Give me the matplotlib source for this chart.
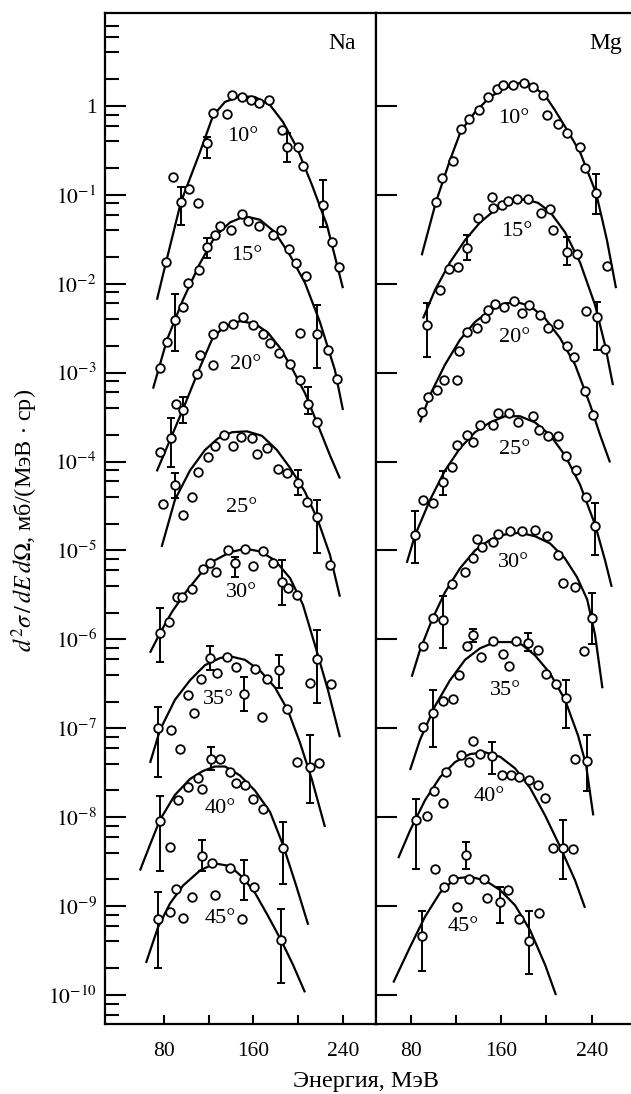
import numpy as np
import matplotlib
matplotlib.use("Agg")
import matplotlib.pyplot as plt
from matplotlib.ticker import LogLocator, NullLocator, FixedLocator

plt.rcParams['font.family'] = ['Liberation Serif', 'DejaVu Serif']
plt.rcParams['mathtext.fontset'] = 'stix'

#################################################
#            Data (E in MeV, lg = log10 of d2s/dEdO)
#################################################
angles = [10, 15, 20, 25, 30, 35, 40, 45]

# ---- Na ----
na10_E = [81.5, 88.3, 95.2, 102.6, 110.2, 118.8, 124.1, 136.1, 141.1, 150.1, 157.6, 165.3, 174.2, 185.3, 189.8, 200.2, 204.1, 222.0, 230.6, 236.6]
na10_lg = [-1.76, -0.80, -1.08, -0.93, -1.09, -0.42, -0.08, -0.09, 0.12, 0.10, 0.07, 0.03, 0.07, -0.27, -0.46, -0.46, -0.68, -1.11, -1.53, -1.81]
na10_err = [(95.2, -1.34, -0.91), (118.8, -0.59, -0.35), (189.8, -0.63, -0.31), (222.0, -1.36, -0.83)]
na10_fitE = [73.7, 81.8, 95.2, 112.2, 123.9, 134.6, 148.0, 161.4, 174.9, 186.5, 199.0, 212.5, 225.9, 240.2]
na10_fit = [-2.18, -1.76, -1.08, -0.52, -0.11, 0.045, 0.11, 0.10, 0.01, -0.18, -0.47, -0.89, -1.34, -2.05]

na15_E = [76.4, 82.4, 89.8, 96.7, 101.7, 111.3, 118.8, 125.6, 130.1, 139.7, 150.1, 155.5, 165.3, 177.8, 184.7, 191.9, 198.1, 206.8, 201.7, 216.7, 226.9, 234.6]
na15_lg = [-2.95, -2.65, -2.41, -2.26, -1.99, -1.85, -1.59, -1.45, -1.35, -1.39, -1.21, -1.29, -1.35, -1.45, -1.40, -1.61, -1.77, -1.91, -2.55, -2.56, -2.74, -3.07]
na15_err = [(89.8, -2.76, -2.12), (118.8, -1.71, -1.49), (216.7, -2.95, -2.24)]
na15_fitE = [70.2, 82.7, 97.0, 112.2, 125.6, 139.1, 152.5, 165.9, 179.3, 192.8, 206.2, 219.6, 233.0, 240.2]
na15_fit = [-3.18, -2.63, -2.18, -1.77, -1.47, -1.31, -1.24, -1.28, -1.42, -1.68, -1.99, -2.43, -2.97, -3.42]

na20_E = [76.4, 86.0, 90.5, 96.7, 109.3, 112.2, 123.6, 124.2, 133.1, 142.0, 150.4, 159.9, 168.9, 174.9, 183.2, 192.8, 201.7, 209.1, 216.7]
na20_lg = [-3.89, -3.74, -3.35, -3.42, -3.02, -2.80, -2.91, -2.56, -2.48, -2.45, -2.37, -2.46, -2.56, -2.67, -2.78, -2.90, -3.08, -3.35, -3.55]
na20_err = [(86.0, -4.06, -3.51), (96.7, -3.57, -3.27), (209.1, -3.46, -3.16)]
na20_fitE = [73.5, 86.0, 96.7, 112.2, 123.9, 134.6, 148.0, 161.4, 173.1, 183.8, 194.6, 206.2, 217.8, 228.6, 237.5]
na20_fit = [-4.11, -3.74, -3.42, -2.94, -2.60, -2.48, -2.42, -2.45, -2.55, -2.72, -2.95, -3.23, -3.59, -3.93, -4.19]

na25_E = [79.4, 89.8, 96.7, 104.8, 110.7, 119.7, 125.6, 133.7, 142.0, 148.6, 158.5, 163.0, 171.9, 182.3, 189.8, 200.2, 207.7, 216.7, 228.3]
na25_lg = [-4.48, -4.26, -4.60, -4.40, -4.12, -3.95, -3.82, -3.70, -3.82, -3.72, -3.74, -3.91, -3.85, -4.08, -4.13, -4.24, -4.45, -4.62, -5.16]
na25_err = [(89.8, -4.41, -4.13), (200.2, -4.38, -4.10), (216.7, -5.03, -4.43)]
na25_fitE = [77.9, 89.8, 103.3, 116.7, 128.3, 140.9, 154.3, 167.7, 181.1, 192.8, 206.2, 217.8, 228.6, 237.5]
na25_fit = [-4.96, -4.43, -4.10, -3.87, -3.74, -3.67, -3.66, -3.71, -3.87, -4.07, -4.34, -4.66, -5.05, -5.52]

na30_E = [76.4, 84.7, 91.4, 95.8, 104.8, 114.6, 121.2, 126.5, 137.6, 143.5, 152.5, 159.9, 168.9, 177.8, 185.3, 191.3, 198.8, 210.7, 216.7, 229.2]
na30_lg = [-5.93, -5.81, -5.52, -5.52, -5.43, -5.21, -5.14, -5.24, -4.99, -5.14, -4.98, -5.17, -5.01, -5.14, -5.35, -5.42, -5.50, -6.49, -6.22, -6.50]
na30_err = [(76.4, -6.25, -5.65), (143.5, -5.30, -5.07), (185.3, -5.61, -5.11), (216.7, -6.72, -5.90)]
na30_fitE = [67.5, 76.4, 87.2, 98.8, 112.2, 125.6, 139.1, 152.5, 165.9, 179.3, 192.8, 204.4, 216.0, 226.8, 237.5]
na30_fit = [-6.15, -5.93, -5.69, -5.48, -5.27, -5.11, -5.02, -4.98, -5.01, -5.11, -5.31, -5.61, -6.10, -6.57, -7.10]

na35_E = [74.9, 86.0, 94.3, 101.7, 106.8, 112.8, 121.2, 127.2, 136.1, 144.2, 151.9, 161.4, 167.4, 171.9, 183.2, 189.8, 198.8, 210.7, 219.2]
na35_lg = [-7.00, -7.02, -7.23, -6.63, -6.83, -6.45, -6.21, -6.38, -6.20, -6.31, -6.61, -6.33, -6.87, -6.44, -6.35, -6.78, -7.38, -7.43, -7.39]
na35_err = [(74.9, -7.55, -6.76), (121.2, -6.35, -6.08), (151.9, -6.81, -6.42), (183.2, -6.55, -6.18), (210.7, -7.84, -7.08)]
na35_fitE = [67.5, 76.4, 89.8, 103.3, 116.7, 130.1, 139.1, 152.5, 165.9, 179.3, 191.0, 201.7, 212.5, 224.1]
na35_fit = [-7.39, -7.02, -6.68, -6.46, -6.29, -6.21, -6.19, -6.23, -6.35, -6.54, -6.80, -7.16, -7.58, -8.11]

na40_E = [76.4, 85.4, 92.8, 101.7, 110.7, 113.7, 121.8, 130.1, 139.1, 144.4, 152.5, 159.9, 168.9, 186.2]
na40_lg = [-8.04, -8.33, -7.81, -7.66, -7.56, -7.68, -7.34, -7.34, -7.49, -7.62, -7.64, -7.80, -7.91, -8.35]
na40_err = [(76.4, -8.61, -7.76), (121.8, -7.47, -7.21), (186.2, -8.75, -8.05)]
na40_fitE = [58.5, 67.5, 76.4, 89.8, 103.3, 114.9, 125.6, 134.6, 148.0, 161.4, 174.9, 186.5, 198.1, 209.1]
na40_fit = [-8.60, -8.31, -8.03, -7.75, -7.57, -7.48, -7.43, -7.43, -7.53, -7.70, -7.94, -8.31, -8.76, -9.21]

na45_E = [74.9, 85.4, 90.7, 96.7, 104.8, 113.7, 122.7, 125.6, 139.1, 149.5, 151.6, 160.8, 184.4]
na45_lg = [-9.14, -9.07, -8.81, -9.13, -8.90, -8.44, -8.52, -8.87, -8.57, -9.14, -8.70, -8.79, -9.38]
na45_err = [(74.9, -9.70, -8.84), (113.7, -8.61, -8.26), (151.6, -8.93, -8.48), (184.4, -9.86, -9.03)]
na45_fitE = [63.9, 74.6, 85.4, 97.0, 112.2, 125.6, 139.1, 150.7, 161.4, 173.1, 184.7, 195.5, 206.2]
na45_fit = [-9.64, -9.24, -8.97, -8.77, -8.60, -8.52, -8.55, -8.68, -8.85, -9.11, -9.38, -9.66, -9.97]

# label positions (E, lg) for the angle marks
na_lab_E = [150.2, 154.1, 153.2, 149.5, 149.5, 128.6, 130.1, 130.1]
na_lab_lg = [-0.34, -1.68, -2.91, -4.52, -5.47, -6.68, -7.90, -9.14]

# ---- Mg ----
mg10_E = [102.4, 107.4, 117.7, 124.2, 131.5, 140.4, 148.6, 156.0, 161.9, 170.7, 180.2, 188.4, 196.7, 200.2, 210.5, 217.9, 229.7, 234.1, 243.8, 253.3]
mg10_lg = [-1.08, -0.81, -0.62, -0.26, -0.15, -0.05, 0.10, 0.19, 0.23, 0.24, 0.26, 0.21, 0.12, -0.10, -0.20, -0.30, -0.46, -0.70, -0.98, -1.80]
mg10_err = [(243.8, -1.21, -0.76)]
mg10_fitE = [89.7, 102.3, 114.7, 124.4, 136.8, 150.1, 163.3, 176.6, 182.8, 189.9, 198.7, 207.6, 218.2, 229.7, 243.9, 253.5, 261.5]
mg10_fit = [-1.68, -1.08, -0.61, -0.28, -0.07, 0.10, 0.20, 0.26, 0.26, 0.20, 0.12, -0.05, -0.27, -0.52, -0.98, -1.51, -2.05]

mg15_E = [94.1, 105.9, 114.1, 122.1, 130.0, 139.8, 151.6, 153.0, 160.4, 166.3, 173.7, 184.0, 194.9, 203.1, 205.5, 217.9, 227.3, 235.0, 244.4, 251.8]
mg15_lg = [-2.46, -2.07, -1.83, -1.81, -1.60, -1.26, -1.02, -1.15, -1.11, -1.07, -1.05, -1.05, -1.20, -1.16, -1.40, -1.64, -1.66, -2.31, -2.37, -2.73]
mg15_err = [(94.1, -2.82, -2.22), (130.0, -1.73, -1.45), (217.9, -1.79, -1.47), (244.4, -2.75, -2.20)]
mg15_fitE = [90.9, 101.5, 114.7, 128.0, 141.3, 154.5, 167.8, 181.0, 192.5, 203.1, 216.4, 229.7, 243.0, 251.8, 258.8]
mg15_fit = [-2.39, -2.07, -1.76, -1.51, -1.31, -1.17, -1.08, -1.05, -1.09, -1.19, -1.42, -1.76, -2.24, -2.69, -3.14]

mg20_E = [89.7, 95.6, 103.0, 109.4, 121.2, 123.0, 129.5, 138.9, 145.6, 148.6, 154.5, 162.5, 171.3, 178.1, 184.8, 194.3, 201.6, 210.5, 217.9, 224.4, 234.1, 241.4]
mg20_lg = [-3.44, -3.27, -3.19, -3.08, -3.08, -2.76, -2.54, -2.50, -2.39, -2.29, -2.23, -2.26, -2.19, -2.33, -2.24, -2.35, -2.50, -2.45, -2.70, -2.82, -3.21, -3.48]
mg20_err = []
mg20_fitE = [88.2, 97.1, 110.3, 123.6, 136.8, 150.1, 163.4, 174.9, 185.5, 198.8, 212.0, 225.3, 238.6, 247.4, 256.2]
mg20_fit = [-3.56, -3.25, -2.91, -2.63, -2.43, -2.30, -2.22, -2.21, -2.25, -2.39, -2.61, -2.91, -3.36, -3.70, -4.01]

mg25_E = [83.8, 91.1, 99.4, 108.3, 116.2, 120.7, 129.5, 135.3, 141.3, 153.0, 157.5, 167.2, 175.1, 187.8, 193.7, 201.6, 210.5, 217.3, 226.1, 235.0, 242.9]
mg25_lg = [-4.83, -4.43, -4.47, -4.23, -4.06, -3.81, -3.70, -3.78, -3.59, -3.59, -3.45, -3.45, -3.55, -3.49, -3.64, -3.71, -3.71, -3.94, -4.10, -4.40, -4.73]
mg25_err = [(83.8, -5.14, -4.56), (108.3, -4.38, -4.11), (242.9, -5.05, -4.47)]
mg25_fitE = [76.5, 83.8, 97.1, 110.3, 123.6, 136.8, 150.1, 163.4, 176.6, 189.9, 203.1, 216.4, 229.7, 243.0, 251.8, 257.7]
mg25_fit = [-5.14, -4.83, -4.43, -4.10, -3.85, -3.67, -3.56, -3.49, -3.49, -3.56, -3.70, -3.93, -4.26, -4.71, -5.11, -5.41]

mg30_E = [91.1, 100.0, 108.8, 116.2, 127.9, 135.3, 138.3, 142.7, 152.5, 157.5, 167.8, 178.1, 189.9, 200.2, 210.5, 214.9, 225.2, 233.2, 240.0]
mg30_lg = [-6.08, -5.76, -5.78, -5.38, -5.24, -5.09, -4.87, -4.96, -4.91, -4.81, -4.78, -4.78, -4.77, -4.84, -5.05, -5.37, -5.41, -6.13, -5.76]
mg30_err = [(108.8, -6.10, -5.51), (240.0, -6.05, -5.48)]
mg30_fitE = [80.9, 88.2, 98.8, 110.3, 123.6, 136.8, 150.1, 163.4, 176.6, 189.9, 203.1, 216.4, 227.0, 236.0, 243.0, 249.5]
mg30_fit = [-6.42, -6.12, -5.78, -5.47, -5.20, -5.00, -4.88, -4.82, -4.80, -4.84, -4.92, -5.09, -5.30, -5.55, -5.95, -6.55]

mg35_E = [91.2, 100.0, 108.8, 117.1, 123.0, 129.5, 135.3, 141.9, 152.5, 161.8, 167.2, 173.1, 183.4, 192.8, 199.3, 208.2, 217.0, 225.2, 235.6]
mg35_lg = [-6.98, -6.83, -6.69, -6.67, -6.40, -6.08, -5.95, -6.20, -6.02, -6.17, -6.30, -6.02, -6.04, -6.12, -6.39, -6.50, -6.66, -7.34, -7.37]
mg35_err = [(100.0, -7.21, -6.57), (135.3, -6.03, -5.88), (183.4, -6.13, -5.93), (217.0, -7.00, -6.46), (235.6, -7.70, -7.08)]
mg35_fitE = [79.4, 88.2, 101.5, 114.7, 128.0, 141.3, 154.5, 167.8, 178.4, 189.9, 203.1, 216.4, 227.9, 235.0, 241.4]
mg35_fit = [-7.47, -7.13, -6.75, -6.46, -6.23, -6.10, -6.03, -6.03, -6.06, -6.18, -6.38, -6.68, -7.08, -7.41, -7.98]

mg40_E = [84.7, 94.1, 100.9, 108.3, 111.2, 124.5, 131.8, 135.3, 141.3, 152.1, 160.4, 168.4, 175.7, 184.8, 192.3, 198.7, 206.1, 214.9, 223.2]
mg40_lg = [-8.03, -7.99, -7.71, -7.84, -7.49, -7.30, -7.38, -7.14, -7.29, -7.31, -7.53, -7.53, -7.55, -7.58, -7.64, -7.78, -8.35, -8.35, -8.36]
mg40_err = [(84.7, -8.58, -7.79), (152.1, -7.51, -7.15), (214.9, -8.69, -8.03)]
mg40_fitE = [69.0, 79.4, 92.6, 105.9, 119.2, 132.4, 145.7, 159.0, 172.2, 185.5, 198.8, 212.0, 225.3, 234.1]
mg40_fit = [-8.46, -8.15, -7.81, -7.55, -7.38, -7.29, -7.27, -7.32, -7.45, -7.67, -7.98, -8.33, -8.71, -9.02]

mg45_E = [90.3, 101.5, 109.4, 117.7, 121.2, 128.9, 131.8, 144.8, 147.2, 158.9, 166.3, 175.3, 184.6, 193.4]
mg45_lg = [-9.34, -8.58, -8.79, -8.70, -9.01, -8.42, -8.70, -8.70, -8.91, -8.95, -8.82, -9.15, -9.39, -9.08]
mg45_err = [(90.3, -9.73, -9.06), (128.9, -8.58, -8.28), (158.9, -9.19, -8.78), (184.6, -9.76, -9.05)]
mg45_fitE = [64.6, 79.4, 92.6, 105.9, 119.2, 132.4, 145.7, 159.0, 172.2, 185.5, 198.8, 208.4]
mg45_fit = [-9.86, -9.46, -9.12, -8.85, -8.69, -8.67, -8.71, -8.82, -8.99, -9.27, -9.66, -10.00]

mg_lab_E = [170.7, 174.0, 171.6, 171.6, 170.8, 164.1, 149.3, 126.6]
mg_lab_lg = [-0.14, -1.41, -2.61, -3.86, -5.14, -6.57, -7.77, -9.23]

ytick_exp = [0, -1, -2, -3, -4, -5, -6, -7, -8, -9, -10]
ytick_labels = ['1'] + [r'$10^{-%d}$' % (-k) for k in ytick_exp[1:]]
xticks = [80, 120, 160, 200, 240]
xtick_labels = ['80', '', '160', '', '240']

na_sets = [
    (na10_E, na10_lg, na10_err, na10_fitE, na10_fit),
    (na15_E, na15_lg, na15_err, na15_fitE, na15_fit),
    (na20_E, na20_lg, na20_err, na20_fitE, na20_fit),
    (na25_E, na25_lg, na25_err, na25_fitE, na25_fit),
    (na30_E, na30_lg, na30_err, na30_fitE, na30_fit),
    (na35_E, na35_lg, na35_err, na35_fitE, na35_fit),
    (na40_E, na40_lg, na40_err, na40_fitE, na40_fit),
    (na45_E, na45_lg, na45_err, na45_fitE, na45_fit),
]
mg_sets = [
    (mg10_E, mg10_lg, mg10_err, mg10_fitE, mg10_fit),
    (mg15_E, mg15_lg, mg15_err, mg15_fitE, mg15_fit),
    (mg20_E, mg20_lg, mg20_err, mg20_fitE, mg20_fit),
    (mg25_E, mg25_lg, mg25_err, mg25_fitE, mg25_fit),
    (mg30_E, mg30_lg, mg30_err, mg30_fitE, mg30_fit),
    (mg35_E, mg35_lg, mg35_err, mg35_fitE, mg35_fit),
    (mg40_E, mg40_lg, mg40_err, mg40_fitE, mg40_fit),
    (mg45_E, mg45_lg, mg45_err, mg45_fitE, mg45_fit),
]


#################################################
#            Drawing
#################################################
def drawSpectrum(ax, E, lg, err, fitE, fit):
    ax.plot(fitE, 10.0 ** np.array(fit), '-', color='k', lw=1.6,
            solid_capstyle='butt', zorder=2)
    for e, lo, hi in err:
        ax.errorbar([e], [10.0 ** lo], yerr=[[0], [10.0 ** hi - 10.0 ** lo]],
                    fmt='none', ecolor='k', elinewidth=1.4, capsize=3.2,
                    capthick=1.4, zorder=3)
    ax.plot(E, 10.0 ** np.array(lg), 'o', ms=6.2, mfc='white', mec='k',
            mew=1.3, zorder=4)


def setupAxes(ax, xlim, withLabels):
    ax.set_yscale('log')
    ax.set_ylim(4.72e-11, 11.1)
    ax.set_xlim(*xlim)
    ax.yaxis.set_major_locator(FixedLocator([10.0 ** k for k in ytick_exp]))
    if withLabels:
        ax.set_yticklabels(ytick_labels)
        ax.yaxis.set_minor_locator(LogLocator(base=10, subs=(2, 4, 6, 8), numticks=30))
        ax.yaxis.set_minor_formatter(plt.NullFormatter())
    else:
        ax.set_yticklabels([])
        ax.yaxis.set_minor_locator(NullLocator())
    ax.set_xticks(xticks)
    ax.set_xticklabels(xtick_labels)
    ax.tick_params(axis='y', which='major', direction='in', length=15, width=1.5,
                   labelsize=15.5, pad=6, right=False)
    ax.tick_params(axis='y', which='minor', direction='in', length=10, width=1.5,
                   right=False)
    ax.tick_params(axis='x', which='major', direction='in', length=6.5, width=1.5,
                   labelsize=15.5, pad=13, top=False)
    for s in ax.spines.values():
        s.set_linewidth(1.6)


fig = plt.figure(figsize=(6.31, 10.94), dpi=100)
axNa = fig.add_axes([105 / 631, 70 / 1094, 271 / 631, 1011 / 1094])
axMg = fig.add_axes([376 / 631, 70 / 1094, 271 / 631, 1011 / 1094])

setupAxes(axNa, (27.2, 269.8), True)
setupAxes(axMg, (49.3, 288.9), False)
axMg.spines['right'].set_visible(False)

for s in na_sets:
    drawSpectrum(axNa, *s)
for s in mg_sets:
    drawSpectrum(axMg, *s)

for a, e, l in zip(angles, na_lab_E, na_lab_lg):
    axNa.text(e, 10.0 ** l, '%d°' % a, ha='center', va='center', fontsize=16)
for a, e, l in zip(angles, mg_lab_E, mg_lab_lg):
    axMg.text(e, 10.0 ** l, '%d°' % a, ha='center', va='center', fontsize=16)

axNa.text(0.925, 0.970, 'Na', transform=axNa.transAxes, ha='right', va='center',
          fontsize=17)
axMg.text(0.907, 0.970, 'Mg', transform=axMg.transAxes, ha='right', va='center',
          fontsize=17)

fig.text(25 / 631, 1 - 520 / 1094,
         r'$d^2\sigma\,/\,dE\,d\mathit{\Omega}$, мб/(МэВ $\cdot$ ср)',
         rotation=90, ha='center', va='center', fontsize=17.5)
fig.text(366 / 631, 1 - 1082 / 1094, 'Энергия, МэВ', ha='center', va='center',
         fontsize=17.5)

fig.savefig('out.png', dpi=100)
